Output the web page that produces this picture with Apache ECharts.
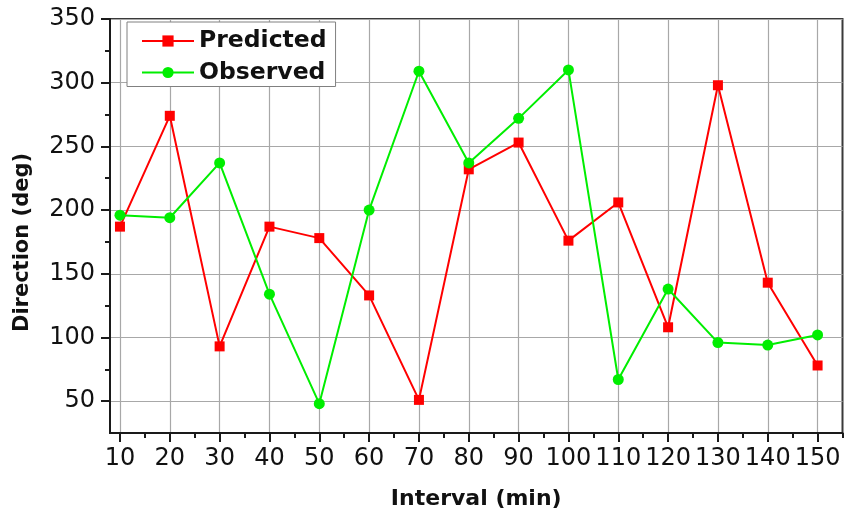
<!DOCTYPE html>
<html>
<head>
<meta charset="utf-8">
<script src="https://cdn.jsdelivr.net/npm/echarts@6/dist/echarts.min.js"></script>
<style>
html,body{margin:0;padding:0;background:#ffffff;}
#chart{width:845px;height:520px;}
</style>
</head>
<body>
<div id="chart"></div>
<script>
const intervals = [10, 20, 30, 40, 50, 60, 70, 80, 90, 100, 110, 120, 130, 140, 150];
const predicted = [187, 274, 93, 187, 178, 133, 51, 232, 253, 176, 206, 108, 298, 143, 78];
const observed  = [196, 194, 237, 134, 48, 200, 309, 237, 272, 310, 67, 138, 96, 94, 102];
const xMajorTicks = [10, 20, 30, 40, 50, 60, 70, 80, 90, 100, 110, 120, 130, 140, 150];
const xMinorTicks = [15, 25, 35, 45, 55, 65, 75, 85, 95, 105, 115, 125, 135, 145, 155];
const yMajorTicks = [50, 100, 150, 200, 250, 300, 350];
const yMinorTicks = [75, 125, 175, 225, 275, 325];
const seriesNames = ['Predicted', 'Observed'];
const xTitle = 'Interval (min)';
const yTitle = 'Direction (deg)';

const chart = echarts.init(document.getElementById('chart'), null, {renderer: 'canvas'});

const axisColor = '#1a1a1a';
const tickFont = {fontFamily: 'DejaVu Sans', fontSize: 24, color: '#111'};

const option = {
  animation: false,
  backgroundColor: '#ffffff',
  grid: {
    left: 110, right: 2.5, top: 19, bottom: 87,
    show: true, borderColor: '#3a3a3a', borderWidth: 2, backgroundColor: 'transparent'
  },
  legend: {
    data: seriesNames,
    orient: 'vertical',
    left: 127, top: 22,
    padding: [7, 9, 2, 14],
    itemGap: 7.5,
    itemWidth: 52, itemHeight: 14,
    itemTextGap: 5,
    backgroundColor: '#ffffff',
    borderColor: '#808080', borderWidth: 1,
    textStyle: {fontFamily: 'DejaVu Sans', fontWeight: 'bold', fontSize: 23.5, color: '#111', lineHeight: 23}
  },
  xAxis: [
    {
      type: 'value', min: 8, max: 155, position: 'bottom',
      axisLine: {show: true, onZero: false, lineStyle: {color: axisColor, width: 2}},
      axisTick: {show: true, customValues: xMajorTicks, length: 9, lineStyle: {color: axisColor, width: 2}},
      axisLabel: Object.assign({customValues: xMajorTicks, margin: 14}, tickFont),
      splitLine: {show: true, lineStyle: {color: '#a8a8a8', width: 1.2}},
      name: xTitle, nameLocation: 'middle', nameGap: 55,
      nameTextStyle: {fontFamily: 'DejaVu Sans', fontWeight: 'bold', fontSize: 22, color: '#111'}
    },
    {
      type: 'value', min: 8, max: 155, position: 'bottom', offset: 0,
      axisLine: {show: false, onZero: false},
      axisTick: {show: true, customValues: xMinorTicks, length: 5, lineStyle: {color: axisColor, width: 2}},
      axisLabel: {show: false},
      splitLine: {show: false}
    }
  ],
  yAxis: [
    {
      type: 'value', min: 25, max: 350, position: 'left',
      axisLine: {show: true, onZero: false, lineStyle: {color: axisColor, width: 2}},
      axisTick: {show: true, customValues: yMajorTicks, length: 9, lineStyle: {color: axisColor, width: 2}},
      axisLabel: Object.assign({customValues: yMajorTicks, margin: 15}, tickFont),
      splitLine: {show: true, lineStyle: {color: '#a8a8a8', width: 1.2}},
      name: yTitle, nameLocation: 'middle', nameGap: 77,
      nameTextStyle: {fontFamily: 'DejaVu Sans', fontWeight: 'bold', fontSize: 21, color: '#111', padding: [0, 33, 0, 0]}
    },
    {
      type: 'value', min: 25, max: 350, position: 'left', offset: 0,
      axisLine: {show: false, onZero: false},
      axisTick: {show: true, customValues: yMinorTicks, length: 5, lineStyle: {color: axisColor, width: 2}},
      axisLabel: {show: false},
      splitLine: {show: false}
    }
  ],
  series: [
    {
      name: seriesNames[0], type: 'line', xAxisIndex: 0, yAxisIndex: 0,
      data: intervals.map((x, i) => [x, predicted[i]]),
      symbol: 'rect', symbolSize: 10,
      lineStyle: {color: '#ff0000', width: 2},
      itemStyle: {color: '#ff0000'}
    },
    {
      name: seriesNames[1], type: 'line', xAxisIndex: 0, yAxisIndex: 0,
      data: intervals.map((x, i) => [x, observed[i]]),
      symbol: 'circle', symbolSize: 11,
      lineStyle: {color: '#00ee00', width: 2},
      itemStyle: {color: '#00ee00'}
    }
  ]
};
chart.setOption(option);
</script>
</body>
</html>
